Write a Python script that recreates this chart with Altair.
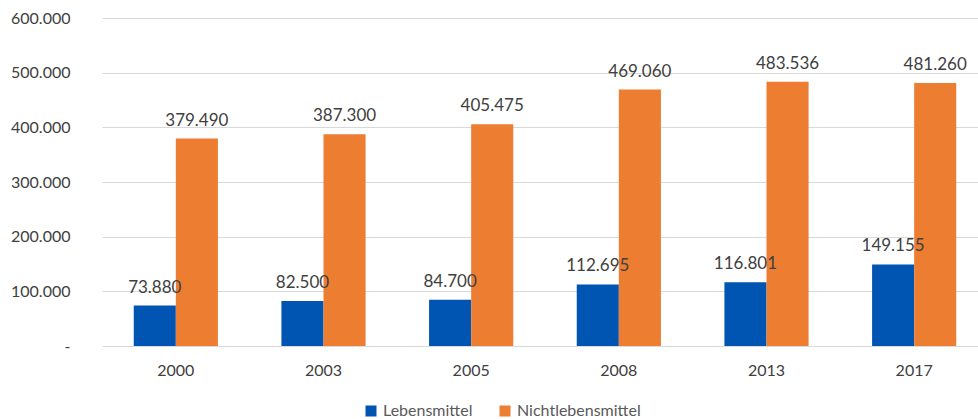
import altair as alt
import pandas as pd

years = ["2000", "2003", "2005", "2008", "2013", "2017"]
lebensmittel = [73880, 82500, 84700, 112695, 116801, 149155]
nichtlebensmittel = [379490, 387300, 405475, 469060, 483536, 481260]
series = ["Lebensmittel", "Nichtlebensmittel"]
colors = ["#0055B3", "#ED7D31"]
y_ticks = [0, 100000, 200000, 300000, 400000, 500000, 600000]

def de(v):
    return f"{v:,}".replace(",", ".")

rows = []
for i, y in enumerate(years):
    rows.append({"Jahr": y, "Serie": series[0], "Wert": lebensmittel[i], "Label": de(lebensmittel[i])})
    rows.append({"Jahr": y, "Serie": series[1], "Wert": nichtlebensmittel[i], "Label": de(nichtlebensmittel[i])})
df = pd.DataFrame(rows)

FONT = "Lato"

x = alt.X("Jahr:N", sort=years, title=None,
          scale=alt.Scale(paddingInner=0.43, paddingOuter=0.215, range=[0, 886]),
          axis=alt.Axis(labelAngle=0, ticks=False, domain=False, labelPadding=16,
                        labelFontSize=16, labelColor="#404040", labelFont=FONT))
xo = alt.XOffset("Serie:N", sort=series, scale=alt.Scale(paddingInner=0, paddingOuter=0))
y = alt.Y("Wert:Q", title=None,
          scale=alt.Scale(domain=[0, 600000], nice=False),
          axis=alt.Axis(values=y_ticks, ticks=False, domain=False, labelPadding=32,
                        gridColor="#D9D9D9", gridWidth=1,
                        labelFontSize=16, labelColor="#404040", labelFont=FONT,
                        labelExpr="datum.value == 0 ? '-' : replace(format(datum.value, ','), ',', '.')"))

base = alt.Chart(df)

bars = base.mark_bar().encode(
    x=x, xOffset=xo, y=y,
    color=alt.Color("Serie:N", sort=series, title=None,
                    scale=alt.Scale(domain=series, range=colors),
                    legend=alt.Legend(orient="none", direction="horizontal", legendX=261, legendY=385,
                                      symbolType="square", symbolSize=121, symbolStrokeWidth=0,
                                      labelFontSize=16, labelColor="#595959", labelFont=FONT,
                                      labelOffset=4, columnPadding=24, padding=0)),
)

labels = base.mark_text(baseline="alphabetic", dy=-13, fontSize=17, color="#404040", font=FONT).encode(
    x=x, xOffset=xo, y=y, text="Label:N"
)

chart = (bars + labels).properties(
    width=876, height=328,
    autosize=alt.AutoSizeParams(type="none"),
    padding={"left": 102, "top": 18, "right": 0, "bottom": 73},
).configure_view(stroke=None)

chart.save("out.html", embed_options={"renderer": "svg", "actions": False})
